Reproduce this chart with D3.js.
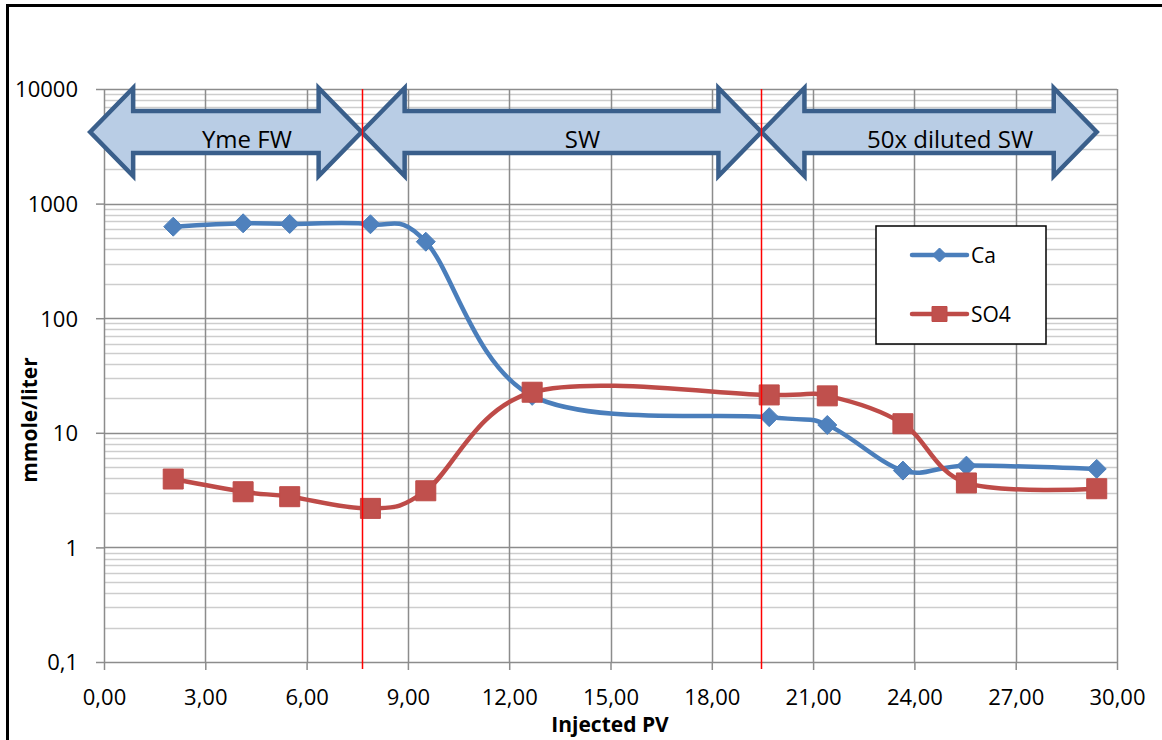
<!DOCTYPE html>
<html>
<head>
<meta charset="utf-8">
<script src="https://cdn.jsdelivr.net/npm/d3@7"></script>
<style>
  body { margin: 0; background: #fff; }
  svg { display: block; font-family: "Open Sans", sans-serif; }
</style>
</head>
<body>
<div id="chart"></div>
<script>
// injected pore volumes (same sample points for both ions)
const pv = [2.05, 4.12, 5.5, 7.89, 9.53, 12.68, 19.7, 21.42, 23.66, 25.54, 29.4];
const ca = [629, 673, 664, 660, 465, 21, 13.7, 11.7, 4.68, 5.17, 4.84];
const so4 = [3.95, 3.06, 2.77, 2.19, 3.12, 22.6, 21.4, 21.0, 12.0, 3.65, 3.25];

const xTicks = [0, 3, 6, 9, 12, 15, 18, 21, 24, 27, 30];
const yTicks = [0.1, 1, 10, 100, 1000, 10000];

// brine switches
const switches = [7.63, 19.47];
const phaseNames = ["Yme FW", "SW", "50x diluted SW"];
const phaseFrom = [-0.41, 7.63, 19.47];
const phaseTo = [7.63, 19.47, 29.4];

const width = 1162, height = 740;
const plot = { left: 104, right: 1117, top: 89, bottom: 662 };

const svg = d3.select('#chart').append('svg')
    .attr('width', width)
    .attr('height', height);

// outer frame (right & bottom fall outside the picture)
svg.append('rect')
    .attr('x', 7.5).attr('y', 5.5)
    .attr('width', 1170).attr('height', 760)
    .attr('fill', '#fff')
    .attr('stroke', '#000')
    .attr('stroke-width', 3);

const x = d3.scaleLinear().domain([0, 30]).range([plot.left, plot.right]);
const y = d3.scaleLog().domain([0.1, 10000]).range([plot.bottom, plot.top]);

// minor gridlines
const minor = [];
for (let d = 0.1; d < 10000; d *= 10) {
    for (let k = 2; k <= 9; k++) minor.push(d * k);
}
svg.append('g').selectAll('line')
    .data(minor)
    .enter().append('line')
    .attr('x1', plot.left).attr('x2', plot.right)
    .attr('y1', d => Math.round(y(d)) + 0.5)
    .attr('y2', d => Math.round(y(d)) + 0.5)
    .attr('stroke', '#cdcdcd')
    .attr('stroke-width', 1.5);

// major gridlines
svg.append('g').selectAll('line')
    .data(yTicks.slice(1))
    .enter().append('line')
    .attr('x1', plot.left).attr('x2', plot.right)
    .attr('y1', d => Math.round(y(d)) + 0.5)
    .attr('y2', d => Math.round(y(d)) + 0.5)
    .attr('stroke', '#8c8c8c')
    .attr('stroke-width', 1.5);

svg.append('g').selectAll('line')
    .data(xTicks.slice(1))
    .enter().append('line')
    .attr('x1', d => Math.round(x(d)) + 0.5)
    .attr('x2', d => Math.round(x(d)) + 0.5)
    .attr('y1', plot.top).attr('y2', plot.bottom)
    .attr('stroke', '#8c8c8c')
    .attr('stroke-width', 1.5);

// axes
const fmtX = d => d3.format('.2f')(d).replace('.', ',');
const fmtY = d => String(d).replace('.', ',');

const xAxis = svg.append('g')
    .attr('transform', `translate(0,${plot.bottom})`)
    .call(d3.axisBottom(x).tickValues(xTicks).tickFormat(fmtX)
        .tickSizeInner(8).tickSizeOuter(0).tickPadding(19));

const yAxis = svg.append('g')
    .attr('transform', `translate(${plot.left},0)`)
    .call(d3.axisLeft(y).tickValues(yTicks).tickFormat(fmtY)
        .tickSizeInner(8).tickSizeOuter(0).tickPadding(18));

[xAxis, yAxis].forEach(ax => {
    ax.select('.domain').attr('stroke', '#8c8c8c').attr('stroke-width', 1.5);
    ax.selectAll('.tick line').attr('stroke', '#8c8c8c').attr('stroke-width', 1.5);
    ax.selectAll('.tick text')
        .attr('fill', '#000')
        .style('font-size', '22px')
        .style('font-family', '"Open Sans", sans-serif');
});
yAxis.selectAll('.tick text').attr('dy', '0.36em');

// axis titles
svg.append('text')
    .attr('x', 610).attr('y', 732)
    .attr('text-anchor', 'middle')
    .style('font-size', '21px')
    .style('font-weight', 'bold')
    .text('Injected PV');

svg.append('text')
    .attr('transform', 'translate(37,420) rotate(-90)')
    .attr('text-anchor', 'middle')
    .style('font-size', '21px')
    .style('font-weight', 'bold')
    .text('mmole/liter');

// series
const series = [
    { name: 'Ca', values: ca, color: '#4a7ebb', fill: '#4f81bd', shape: 'diamond' },
    { name: 'SO4', values: so4, color: '#be4b48', fill: '#c0504d', shape: 'square' },
];

const line = d3.line()
    .x(d => x(d[0]))
    .y(d => y(d[1]))
    .curve(d3.curveCardinal.tension(0));

const marker = (shape, s) => shape === 'diamond'
    ? `M0,${-s}L${s},0L0,${s}L${-s},0Z`
    : `M${-s},${-s}H${s}V${s}H${-s}Z`;

series.forEach(sr => {
    const pts = pv.map((p, i) => [p, sr.values[i]]);
    svg.append('path')
        .datum(pts)
        .attr('d', line)
        .attr('fill', 'none')
        .attr('stroke', sr.color)
        .attr('stroke-width', 4.5)
        .attr('stroke-linejoin', 'round');
});

series.forEach(sr => {
    const pts = pv.map((p, i) => [p, sr.values[i]]);
    svg.append('g').selectAll('path')
        .data(pts)
        .enter().append('path')
        .attr('transform', d => `translate(${x(d[0])},${y(d[1])})`)
        .attr('d', marker(sr.shape, sr.shape === 'diamond' ? 9.5 : 10))
        .attr('fill', sr.fill)
        .attr('stroke', sr.color)
        .attr('stroke-width', 1);
});

// phase arrows
const cy = 132, headLen = 43, headH = 44, shaftH = 21;
const arrowPath = (x0, x1) => {
    const a = x0 + headLen, b = x1 - headLen;
    return `M${x0},${cy}L${a},${cy - headH}L${a},${cy - shaftH}L${b},${cy - shaftH}` +
        `L${b},${cy - headH}L${x1},${cy}L${b},${cy + headH}L${b},${cy + shaftH}` +
        `L${a},${cy + shaftH}L${a},${cy + headH}Z`;
};

const arrows = svg.append('g').selectAll('g')
    .data(phaseNames)
    .enter().append('g');

arrows.append('path')
    .attr('d', (d, i) => arrowPath(x(phaseFrom[i]), x(phaseTo[i])))
    .attr('fill', '#b9cde5')
    .attr('stroke', '#3a5f8b')
    .attr('stroke-width', 4.5)
    .attr('stroke-linejoin', 'miter');

arrows.append('text')
    .attr('x', (d, i) => (x(phaseFrom[i]) + x(phaseTo[i])) / 2 + 21)
    .attr('y', 148)
    .attr('text-anchor', 'middle')
    .style('font-size', '24px')
    .text(d => d);

// red switch markers
svg.append('g').selectAll('line')
    .data(switches)
    .enter().append('line')
    .attr('x1', d => Math.round(x(d)) + 0.5).attr('x2', d => Math.round(x(d)) + 0.5)
    .attr('y1', plot.top).attr('y2', plot.bottom + 7)
    .attr('stroke', '#ff0000')
    .attr('stroke-width', 1.5);

// legend
const legend = svg.append('g').attr('transform', 'translate(876,226)');
legend.append('rect')
    .attr('width', 170).attr('height', 118)
    .attr('fill', '#fff')
    .attr('stroke', '#000')
    .attr('stroke-width', 1.5);

const items = legend.selectAll('g.item')
    .data(series)
    .enter().append('g')
    .attr('class', 'item')
    .attr('transform', (d, i) => `translate(0,${29 + i * 59})`);

items.append('line')
    .attr('x1', 36).attr('x2', 91)
    .attr('stroke', d => d.color)
    .attr('stroke-width', 4.5)
    .attr('stroke-linecap', 'round');

items.append('path')
    .attr('transform', 'translate(63.5,0)')
    .attr('d', d => marker(d.shape, d.shape === 'diamond' ? 7 : 7.5))
    .attr('fill', d => d.fill)
    .attr('stroke', d => d.color);

items.append('text')
    .attr('x', 95).attr('dy', '0.36em')
    .style('font-size', '21px')
    .text(d => d.name);
</script>
</body>
</html>
